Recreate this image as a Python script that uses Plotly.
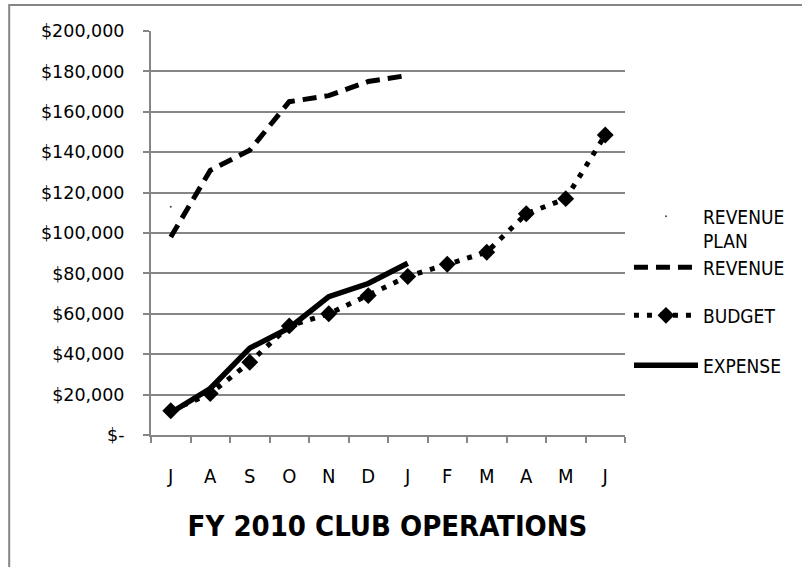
import plotly.graph_objects as go

months = ["J", "A", "S", "O", "N", "D", "J", "F", "M", "A", "M", "J"]
revenue_plan = [113000]
revenue = [98000, 131000, 141000, 165000, 168000, 175000, 178000]
budget = [12000, 20500, 36000, 54000, 60000, 69000, 78500, 84500, 90500, 109500, 117000, 148500]
expense = [11000, 23000, 43000, 53000, 68500, 75000, 85000]

y_ticks = [0, 20000, 40000, 60000, 80000, 100000, 120000, 140000, 160000, 180000, 200000]
y_labels = ["$-", "$20,000", "$40,000", "$60,000", "$80,000", "$100,000",
            "$120,000", "$140,000", "$160,000", "$180,000", "$200,000"]

NARROW = "DejaVu Sans Condensed, Liberation Sans Narrow, Liberation Sans, sans-serif"
GRID = "#868686"

idx = list(range(len(months)))

fig = go.Figure()
fig.add_trace(go.Scatter(
    x=idx[:len(revenue_plan)], y=revenue_plan, name="REVENUE<br>PLAN",
    mode="markers", marker=dict(size=2, color="#444444"), legend="legend"))
fig.add_trace(go.Scatter(
    x=idx[:len(revenue)], y=revenue, name="REVENUE",
    mode="lines", line=dict(color="black", width=5, dash="14px,8px"), legend="legend2"))
fig.add_trace(go.Scatter(
    x=idx[:len(budget)], y=budget, name="BUDGET",
    mode="lines+markers", line=dict(color="black", width=5, dash="5px,8px"),
    marker=dict(symbol="diamond", size=13, color="black"), legend="legend3"))
fig.add_trace(go.Scatter(
    x=idx[:len(expense)], y=expense, name="EXPENSE",
    mode="lines", line=dict(color="black", width=5.5), legend="legend4"))

L, R, T, B = 151, 629, 31, 435
W, H = 802, 567
def px_x(p):
    return (p - L) / (R - L)
def px_y(p):
    return (B - p) / (B - T)

leg_common = dict(bgcolor="rgba(0,0,0,0)", font=dict(family=NARROW, size=19, color="black"),
                  xanchor="left", x=px_x(633), itemwidth=64, valign="top", yanchor="middle")
fig.update_layout(
    width=W, height=H,
    margin=dict(l=L, r=W - R, t=T, b=H - B),
    paper_bgcolor="white", plot_bgcolor="white",
    showlegend=True,
    legend=dict(**leg_common, y=px_y(229)),
    legend2=dict(**leg_common, y=px_y(267.5)),
    legend3=dict(**leg_common, y=px_y(315.5)),
    legend4=dict(**leg_common, y=px_y(365.5)),
    title=dict(text="<b>FY 2010 CLUB OPERATIONS</b>", x=px_x(389.5), xref="paper", xanchor="center",
               y=1 - 526 / H, yanchor="middle",
               font=dict(family=NARROW, size=29, color="black")),
    xaxis=dict(range=[-0.5, len(months) - 0.5], tickvals=idx, ticktext=months,
               showgrid=False, zeroline=False, showline=True, linecolor=GRID, linewidth=2,
               ticks="", ticklen=0, tickfont=dict(family=NARROW, size=20, color="black"),
               ticklabelstandoff=22,
               minor=dict(tickvals=[i - 0.5 for i in range(len(months) + 1)], ticks="outside",
                          ticklen=6, tickcolor=GRID, tickwidth=2, showgrid=False)),
    yaxis=dict(range=[0, 200000], tickvals=y_ticks, ticktext=y_labels,
               showgrid=True, gridcolor=GRID, gridwidth=2, zeroline=False,
               showline=True, linecolor=GRID, linewidth=2,
               ticks="outside", ticklen=6, tickcolor=GRID, tickwidth=2,
               tickfont=dict(family="DejaVu Sans", size=17.5, color="black"),
               ticklabelstandoff=15),
    shapes=[dict(type="rect", xref="paper", yref="paper",
                 x0=px_x(8), x1=px_x(900), y0=px_y(700), y1=px_y(5),
                 line=dict(color=GRID, width=2), fillcolor="rgba(0,0,0,0)", layer="below")],
)

fig.write_html("out.html", config={"displayModeBar": False},
               post_script="document.body.style.margin='0';")
